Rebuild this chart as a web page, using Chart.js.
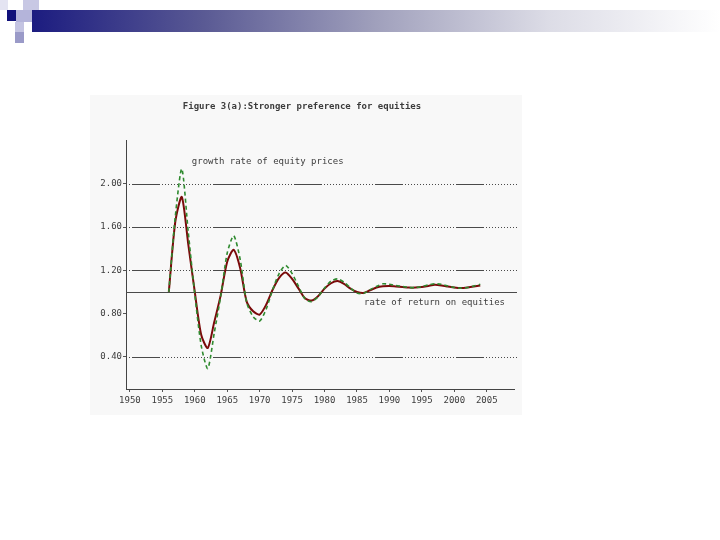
<!DOCTYPE html>
<html>
<head>
<meta charset="utf-8">
<script src="https://cdn.jsdelivr.net/npm/chart.js@4"></script>
<style>
  body { margin: 0; width: 720px; height: 540px; background: #fff; position: relative; overflow: hidden; }
  .bar { position: absolute; left: 32px; top: 10px; width: 688px; height: 22px;
         background: linear-gradient(to right, #1c1c80 0%, #5a5a94 25%, #a0a0bc 50%, #dcdce6 75%, #ffffff 100%); }
  .sq { position: absolute; }
  #panel { position: absolute; left: 90px; top: 95px; width: 432px; height: 320px; background: #f8f8f8; }
</style>
</head>
<body>
<div class="bar"></div>
<div class="sq" style="left:0;top:0;width:8px;height:10px;background:#e4e4f2"></div>
<div class="sq" style="left:23px;top:0;width:16px;height:10px;background:#c8c8e4"></div>
<div class="sq" style="left:7px;top:10px;width:9px;height:11px;background:#10107a"></div>
<div class="sq" style="left:16px;top:10px;width:16px;height:12px;background:#b4b4da"></div>
<div class="sq" style="left:15px;top:22px;width:9px;height:10px;background:#c4c4e2"></div>
<div class="sq" style="left:15px;top:32px;width:9px;height:11px;background:#9a9ac8"></div>
<div id="panel"><canvas id="chart"></canvas></div>
<script>
const years = [1956, 1957, 1958, 1959, 1960, 1961, 1962, 1963, 1964, 1965,
    1966, 1967, 1968, 1969, 1970, 1971, 1972, 1973, 1974, 1975,
    1976, 1977, 1978, 1979, 1980, 1981, 1982, 1983, 1984, 1985,
    1986, 1987, 1988, 1989, 1990, 1991, 1992, 1993, 1994, 1995,
    1996, 1997, 1998, 1999, 2000, 2001, 2002, 2003, 2004]
const returnOnEquities = [1.00, 1.65, 1.88, 1.44, 1.00, 0.60, 0.48, 0.72, 0.97, 1.28,
    1.39, 1.22, 0.91, 0.82, 0.79, 0.88, 1.02, 1.13, 1.18, 1.12,
    1.03, 0.94, 0.92, 0.96, 1.03, 1.08, 1.10, 1.075, 1.03, 1.00,
    0.99, 1.015, 1.04, 1.052, 1.055, 1.05, 1.045, 1.04, 1.04, 1.045,
    1.055, 1.065, 1.06, 1.05, 1.04, 1.035, 1.04, 1.05, 1.06]
const equityPriceGrowth = [1.00, 1.70, 2.14, 1.55, 0.98, 0.50, 0.29, 0.62, 0.96, 1.36,
    1.52, 1.30, 0.90, 0.77, 0.73, 0.84, 1.02, 1.17, 1.245, 1.17,
    1.05, 0.935, 0.91, 0.955, 1.035, 1.10, 1.12, 1.09, 1.035, 0.99,
    0.985, 1.02, 1.05, 1.075, 1.07, 1.06, 1.05, 1.04, 1.04, 1.05,
    1.065, 1.075, 1.07, 1.055, 1.04, 1.035, 1.04, 1.055, 1.07]
const xTicks = [1950, 1955, 1960, 1965, 1970, 1975, 1980, 1985, 1990, 1995, 2000, 2005]
const yTicks = [0.4, 0.8, 1.2, 1.6, 2.0]
const gridValues = [0.4, 1.2, 1.6, 2.0]
const refValue = 1.0
const seriesLabels = [
    { text: "growth rate of equity prices", x: 1959.55, y: 2.205 },
    { text: "rate of return on equities", x: 1986.1, y: 0.90 },
]

const FONT = { family: "DejaVu Sans Mono", size: 9 }
const INK = "#3c3c3c"

const patternGrid = {
    id: "patternGrid",
    beforeDatasetsDraw(chart) {
        const { ctx, chartArea: a, scales: { y } } = chart
        const hline = (py) => { ctx.beginPath(); ctx.moveTo(a.left, py); ctx.lineTo(a.right + 3, py); ctx.stroke() }
        ctx.save()
        ctx.strokeStyle = "#4a4a4a"
        ctx.lineWidth = 1
        gridValues.forEach(v => {
            const py = Math.round(y.getPixelForValue(v)) + 0.5
            ctx.setLineDash([1, 2])
            ctx.lineDashOffset = 0
            hline(py)
            ctx.setLineDash([27, 54])
            ctx.lineDashOffset = 75
            hline(py)
        })
        ctx.setLineDash([])
        hline(Math.round(y.getPixelForValue(refValue)) + 0.5)
        ctx.restore()
    },
    afterDatasetsDraw(chart) {
        const { ctx, scales: { x, y } } = chart
        ctx.save()
        ctx.font = `${FONT.size}px ${FONT.family}`
        ctx.fillStyle = INK
        ctx.textBaseline = "middle"
        ctx.textAlign = "left"
        seriesLabels.forEach(l => ctx.fillText(l.text, x.getPixelForValue(l.x), y.getPixelForValue(l.y)))
        ctx.restore()
    }
}

new Chart(document.getElementById("chart"), {
    type: "line",
    data: {
        datasets: [{
            label: "growth rate of equity prices",
            data: years.map((yr, i) => ({ x: yr, y: equityPriceGrowth[i] })),
            borderColor: "#2f8a2f",
            borderWidth: 1.6,
            borderDash: [4, 3],
            pointRadius: 0,
            tension: 0.25,
        }, {
            label: "rate of return on equities",
            data: years.map((yr, i) => ({ x: yr, y: returnOnEquities[i] })),
            borderColor: "#7a0a0a",
            borderWidth: 2,
            pointRadius: 0,
            tension: 0.25,
        }],
    },
    options: {
        responsive: true,
        maintainAspectRatio: false,
        animation: false,
        layout: { padding: { right: 8 } },
        plugins: {
            legend: { display: false },
            tooltip: { enabled: false },
            title: {
                display: true,
                text: "Figure 3(a):Stronger preference for equities",
                font: FONT,
                color: INK,
                padding: { top: 6, bottom: 29 },
            },
        },
        scales: {
            x: {
                type: "linear",
                min: 1949.4,
                max: 2009.2,
                afterBuildTicks: s => { s.ticks = xTicks.map(v => ({ value: v })) },
                afterFit: s => { s.height = 26 },
                grid: { drawOnChartArea: false, tickLength: 3, color: "#555" },
                border: { color: "#444", width: 1 },
                ticks: { font: FONT, color: INK, padding: 3, maxRotation: 0, autoSkip: false, callback: v => String(v) },
            },
            y: {
                min: 0.1,
                max: 2.4,
                afterBuildTicks: s => { s.ticks = yTicks.map(v => ({ value: v })) },
                afterFit: s => { s.width = 36 },
                grid: { drawOnChartArea: false, tickLength: 3, color: "#555" },
                border: { color: "#444", width: 1 },
                ticks: { font: FONT, color: INK, padding: 1, callback: v => v.toFixed(2) },
            },
        },
    },
    plugins: [patternGrid],
});
</script>
</body>
</html>
